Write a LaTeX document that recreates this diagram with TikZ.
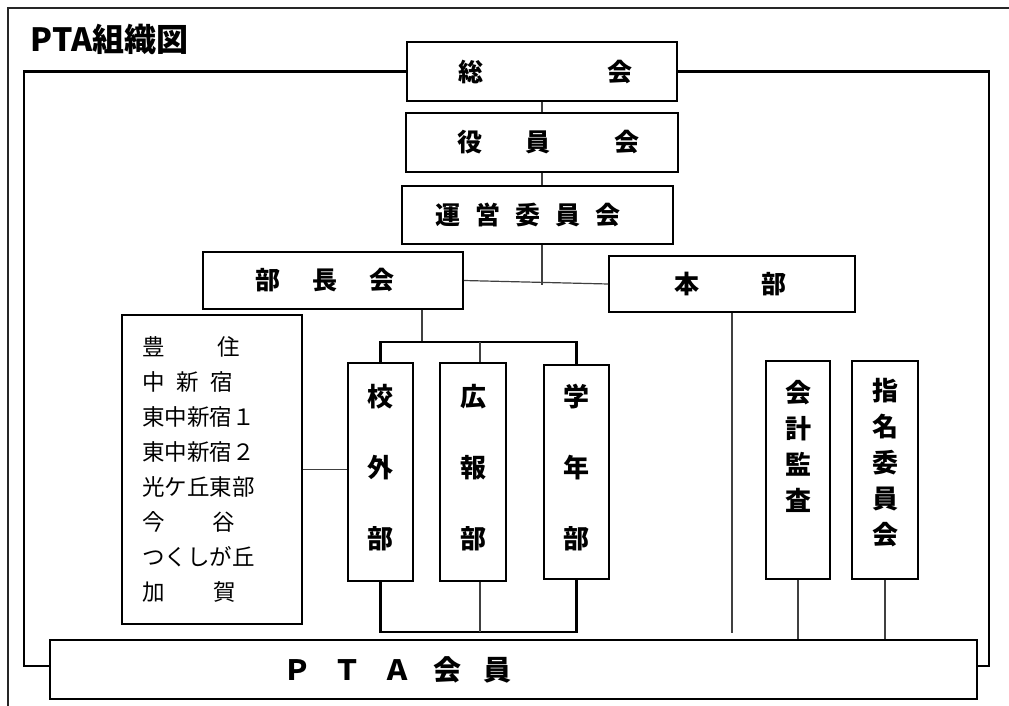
\documentclass[tikz,border=0pt]{standalone}
\usepackage{fontspec}
\setmainfont{Noto Sans CJK JP}
\begin{document}
\begin{tikzpicture}[x=1pt,y=-1pt,
  box/.style={draw=black,line width=1.6pt,inner sep=0pt,fill=white,font=\bfseries\fontsize{25}{30}\selectfont},
  vbox/.style={box,align=center},
  thinline/.style={draw=black!75,line width=1.2pt},
  thickline/.style={draw=black,line width=2.8pt},
  frameline/.style={draw=black,line width=2.2pt},
  outerline/.style={draw=black!85,line width=1.6pt}]
\useasboundingbox (0,0) rectangle (1009,706);

% outer frame (clipped by page)
\draw[outerline] (1009,8) -- (8,8) -- (8,706);

\node[anchor=base west,font=\bfseries\fontsize{32}{38}\selectfont] (title) at (27,52) {PTA組織図};

% boxes
\node[box,minimum width=270pt,minimum height=59pt] (sokai) at (542,71.5) {\kern7pt 総\hspace{124pt}会};
\node[box,minimum width=272pt,minimum height=59pt] (yakuin) at (542,142.5) {\kern13pt 役\hspace{43pt}員\hspace{64pt}会};
\node[box,minimum width=271pt,minimum height=58pt] (unei) at (537.5,215) {運\hspace{15pt}営\hspace{15pt}委\hspace{15pt}員\hspace{15pt}会\kern19pt};
\node[box,minimum width=260pt,minimum height=57pt] (bucho) at (333,280.5) {部\hspace{32pt}長\hspace{32pt}会\kern16pt};
\node[box,minimum width=246pt,minimum height=56pt] (honbu) at (732,284) {本\hspace{62pt}部\kern3pt};

\node[box,minimum width=180pt,minimum height=309pt,text width=140pt,align=left,
      font=\fontsize{22.5}{35}\selectfont] (list) at (212,469.5)
  {豊\hspace{53pt}住\\
   中\hspace{12pt}新\hspace{12pt}宿\\
   東中新宿１\\
   東中新宿２\\
   光ケ丘東部\\
   今\hspace{48pt}谷\\
   つくしが丘\\
   加\hspace{49pt}賀};

\node[vbox,minimum width=65pt,minimum height=218pt,font=\bfseries\fontsize{26}{71}\selectfont] (kogai) at (380.5,472) {校\\外\\部\rule[-12pt]{0pt}{0pt}};
\node[vbox,minimum width=66pt,minimum height=218pt,font=\bfseries\fontsize{26}{71}\selectfont] (koho) at (473,472) {広\\報\\部\rule[-12pt]{0pt}{0pt}};
\node[vbox,minimum width=65pt,minimum height=214pt,font=\bfseries\fontsize{26}{71}\selectfont] (gakunen) at (576.5,472) {学\\年\\部\rule[-12pt]{0pt}{0pt}};
\node[vbox,minimum width=64pt,minimum height=218pt,font=\bfseries\fontsize{26}{36}\selectfont] (kaikei) at (798,470) {会\\計\\監\\査\rule[-50pt]{0pt}{0pt}};
\node[vbox,minimum width=66pt,minimum height=218pt,font=\bfseries\fontsize{26}{36}\selectfont] (shimei) at (885,470) {指\\名\\委\\員\\会\rule[-17pt]{0pt}{0pt}};

\node[box,minimum width=927pt,minimum height=59pt,font=\bfseries\fontsize{28}{32}\selectfont] (pta) at (513.5,669.5) {Ｐ\hspace{22pt}Ｔ\hspace{22pt}Ａ\hspace{22pt}会\hspace{22pt}員\kern232pt};

% inner frame
\draw[frameline] (sokai.west) -- (24,71.5) -- (24,666) -- (pta.west |- 0,666);
\draw[frameline] (sokai.east) -- (989,71.5) -- (989,666) -- (pta.east |- 0,666);

% top chain
\draw[thinline] (sokai.south) -- (yakuin.north);
\draw[thinline] (yakuin.south) -- (yakuin.south |- unei.north);
\coordinate (ueend) at (542,285);
\draw[thinline] (yakuin.south |- unei.south) -- (ueend);
\draw[thinline] (bucho.east) -- (honbu.west);

% bucho to departments
\coordinate (bt) at (422,342);
\coordinate (bm) at (480,342);
\coordinate (bb) at (480,632);
\draw[thinline] (bucho.south -| bt) -- (bt);
\draw[thickline] (kogai.north) -- (kogai.north |- bt) -- (gakunen.north |- bt) -- (gakunen.north);
\draw[thinline] (bm) -- (bm |- koho.north);
\draw[thickline] (kogai.south) -- (kogai.south |- bb) -- (gakunen.south |- bb) -- (gakunen.south);
\draw[thinline] (bm |- koho.south) -- (bb);
\draw[thinline] (list.east) -- (list.east -| kogai.west);

% honbu line (free end)
\coordinate (hbend) at (732,633);
\draw[thinline] (honbu.south) -- (hbend);
\draw[thinline] (kaikei.south) -- (kaikei.south |- pta.north);
\draw[thinline] (shimei.south) -- (shimei.south |- pta.north);
\end{tikzpicture}
\end{document}
